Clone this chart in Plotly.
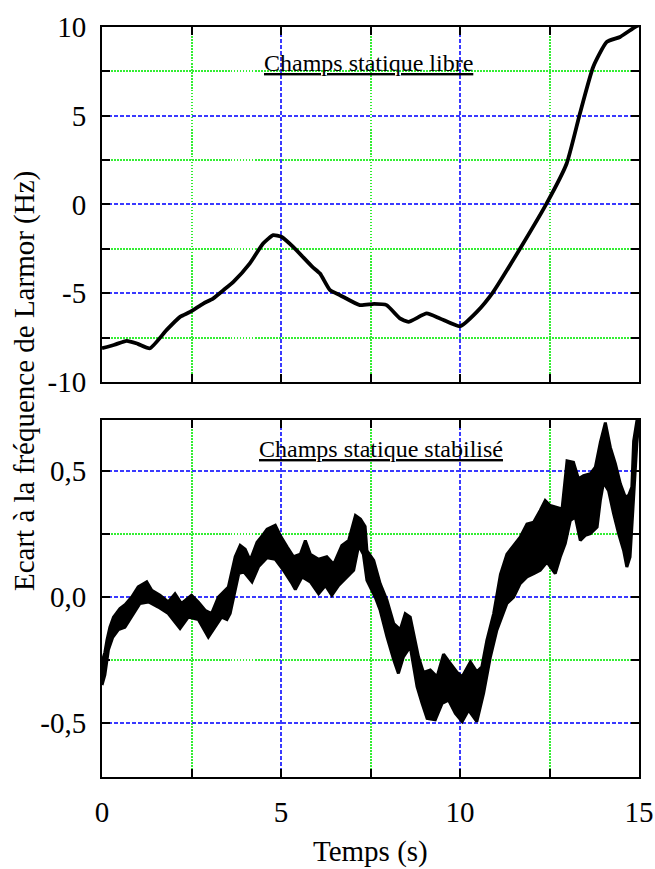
import plotly.graph_objects as go

# ---- Top panel: free static field (smooth curve) ----
top_t = [0.0, 0.35, 0.69, 1.0, 1.34, 1.8, 2.18, 2.46, 2.83, 3.1, 3.39, 3.67, 4.13, 4.5, 4.78,
         5.01, 5.34, 5.87, 6.09, 6.37, 6.65, 7.2, 7.6, 7.95, 8.32, 8.56, 9.07, 9.44, 10.0,
         10.47, 10.93, 11.68, 12.42, 12.98, 13.35, 13.72, 14.1, 14.47, 14.89, 15.0]
top_hz = [-8.1, -7.9, -7.68, -7.85, -8.1, -7.08, -6.33, -6.05, -5.58, -5.3, -4.83, -4.36, -3.32, -2.2, -1.73,
          -1.82, -2.39, -3.5, -3.89, -4.83, -5.11, -5.67, -5.6, -5.67, -6.42, -6.61, -6.14, -6.42, -6.86,
          -6.05, -4.92, -2.48, 0.06, 2.31, 5.13, 7.75, 9.16, 9.44, 10.0, 10.1]

# ---- Bottom panel: stabilised static field (noisy band: upper / lower envelopes) ----
bot_t_upper = [0.0, 0.08, 0.14, 0.22, 0.32, 0.5, 0.65, 0.83, 1.01, 1.25, 1.39, 1.62, 1.85, 2.04, 2.22,
               2.5, 2.69, 2.88, 3.06, 3.25, 3.53, 3.72, 3.86, 4.0, 4.14, 4.33, 4.51, 4.61, 4.84, 4.98,
               5.17, 5.35, 5.54, 5.68, 5.82, 6.05, 6.28, 6.47, 6.7, 6.89, 7.08, 7.22, 7.35, 7.4, 7.59,
               7.77, 7.96, 8.15, 8.33, 8.47, 8.61, 8.7, 8.84, 8.98, 9.17, 9.36, 9.54, 9.73, 9.92, 10.06,
               10.29, 10.47, 10.61, 10.75, 10.94, 11.13, 11.31, 11.5, 11.68, 11.87, 12.06, 12.24, 12.38,
               12.52, 12.71, 12.85, 12.99, 13.17, 13.31, 13.45, 13.64, 13.78, 13.92, 14.06, 14.2, 14.34,
               14.48, 14.62, 14.71, 14.8, 14.85, 14.94, 15.0]
bot_upper = [-0.26, -0.22, -0.17, -0.12, -0.08, -0.046, -0.03, 0.0, 0.04, 0.06, 0.027, 0.007, -0.02, 0.013, -0.026,
             0.007, -0.02, -0.053, -0.066, 0.0, 0.04, 0.16, 0.205, 0.19, 0.146, 0.218, 0.25, 0.27, 0.285, 0.245,
             0.2, 0.16, 0.17, 0.225, 0.17, 0.15, 0.16, 0.13, 0.205, 0.225, 0.324, 0.31, 0.28, 0.185, 0.146,
             0.053, -0.013, -0.106, -0.13, -0.066, -0.08, -0.145, -0.238, -0.30, -0.29, -0.317, -0.227, -0.264, -0.30, -0.317,
             -0.258, -0.298, -0.278, -0.172, -0.066, 0.09, 0.17, 0.205, 0.238, 0.29, 0.298, 0.344, 0.384,
             0.364, 0.357, 0.35, 0.542, 0.536, 0.47, 0.483, 0.49, 0.516, 0.615, 0.694, 0.595, 0.53,
             0.45, 0.397, 0.404, 0.437, 0.62, 0.70, 0.71]

bot_t_lower = [0.0, 0.08, 0.18, 0.3, 0.46, 0.64, 0.83, 1.06, 1.3, 1.57, 1.85, 2.18, 2.41, 2.69, 2.97,
               3.11, 3.34, 3.49, 3.58, 3.82, 3.96, 4.19, 4.37, 4.61, 4.84, 5.07, 5.31, 5.4, 5.59, 5.82,
               6.05, 6.24, 6.42, 6.61, 6.84, 7.03, 7.17, 7.3, 7.4, 7.63, 7.77, 7.96, 8.15, 8.28, 8.42,
               8.61, 8.8, 8.94, 9.08, 9.31, 9.5, 9.68, 9.87, 10.06, 10.24, 10.47, 10.66, 10.85, 11.03, 11.22,
               11.31, 11.5, 11.68, 11.87, 12.06, 12.24, 12.43, 12.66, 12.8, 12.94, 13.08, 13.22, 13.36, 13.5,
               13.64, 13.83, 13.92, 14.01, 14.15, 14.29, 14.43, 14.57, 14.66, 14.75, 14.85, 14.94, 15.0]
bot_lower = [-0.35, -0.31, -0.21, -0.16, -0.13, -0.12, -0.08, -0.026, -0.02, -0.04, -0.066, -0.125, -0.08, -0.09, -0.16,
             -0.13, -0.08, -0.09, -0.066, 0.093, 0.1, 0.06, 0.12, 0.156, 0.15, 0.106, 0.053, 0.03, 0.08, 0.06,
             0.013, 0.046, 0.007, 0.046, 0.08, 0.106, 0.205, 0.17, 0.066, 0.0, -0.053, -0.159, -0.251, -0.304, -0.238,
             -0.198, -0.357, -0.423, -0.483, -0.489, -0.423, -0.41, -0.463, -0.496, -0.45, -0.496, -0.383, -0.238, -0.132, -0.06,
             -0.026, 0.0, 0.053, 0.08, 0.093, 0.106, 0.139, 0.093, 0.159, 0.212, 0.304, 0.318, 0.225, 0.245,
             0.252, 0.278, 0.384, 0.456, 0.423, 0.331, 0.252, 0.185, 0.119, 0.159, 0.397, 0.61, 0.70]

top_yticks = [-10, -5, 0, 5, 10]
top_yticklabels = ["-10", "-5", "0", "5", "10"]
bot_yticks = [-0.5, 0.0, 0.5]
bot_yticklabels = ["-0,5", "0,0", "0,5"]
x_ticks = [0, 5, 10, 15]
x_ticklabels = ["0", "5", "10", "15"]

title_top = "Champs statique libre"
title_bot = "Champs statique stabilisé"
x_title = "Temps (s)"
y_title = "Ecart à la fréquence de Larmor (Hz)"

FONT = "Liberation Serif"
BLUE = "#3a3aff"
GREEN = "#33ee33"
MAJ_DASH = "4px,2px"
MIN_DASH = "1.5px,1.5px"
GRID_W = 1.5

fig = go.Figure()

fig.add_trace(go.Scatter(x=top_t, y=top_hz, mode="lines",
                         line=dict(color="black", width=3.8, shape="spline", smoothing=0.5),
                         xaxis="x", yaxis="y", showlegend=False))

band_x = bot_t_upper + bot_t_lower[::-1]
band_y = bot_upper + bot_lower[::-1]
fig.add_trace(go.Scatter(x=band_x, y=band_y, mode="lines", fill="toself", fillcolor="black",
                         line=dict(color="black", width=3),
                         xaxis="x2", yaxis="y2", showlegend=False))


def tick_style():
    return dict(ticks="inside", ticklen=8, tickwidth=2, tickcolor="black",
                showline=True, linecolor="black", linewidth=2, mirror="ticks",
                showgrid=True, gridcolor=BLUE, griddash=MAJ_DASH, gridwidth=GRID_W,
                zeroline=False, automargin=False)


def minor_style(vals):
    return dict(tickvals=vals, ticks="inside", ticklen=8, tickwidth=2, tickcolor="black",
                showgrid=True, gridcolor=GREEN, griddash=MIN_DASH, gridwidth=GRID_W)


tickfont = dict(family=FONT, size=29, color="black")

fig.update_layout(
    width=655, height=869,
    margin=dict(l=102, r=16, t=27, b=92),
    paper_bgcolor="white", plot_bgcolor="white",
    xaxis=dict(domain=[0, 1], anchor="y", range=[0, 15], tickvals=x_ticks, ticktext=x_ticklabels,
               showticklabels=False, minor=minor_style([2.5, 7.5, 12.5]), **tick_style()),
    yaxis=dict(domain=[0.5267, 1], anchor="x", range=[-10, 10],
               tickvals=top_yticks, ticktext=top_yticklabels,
               minor=minor_style([-7.5, -2.5, 2.5, 7.5]), tickfont=tickfont, ticklabelstandoff=8,
               **tick_style()),
    xaxis2=dict(domain=[0, 1], anchor="y2", range=[0, 15], tickvals=x_ticks, ticktext=x_ticklabels,
                minor=minor_style([2.5, 7.5, 12.5]), tickfont=tickfont, ticklabelstandoff=8,
                **tick_style()),
    yaxis2=dict(domain=[0, 0.476], anchor="x2", range=[-0.716, 0.704],
                tickvals=bot_yticks, ticktext=bot_yticklabels,
                minor=minor_style([-0.25, 0.25]), tickfont=tickfont, ticklabelstandoff=8,
                **tick_style()),
    annotations=[
        dict(text="<u>" + title_top + "</u>", x=7.45, y=8.0, xref="x", yref="y", showarrow=False,
             xanchor="center", yanchor="middle", font=dict(family=FONT, size=24, color="black")),
        dict(text="<u>" + title_bot + "</u>", x=7.79, y=0.59, xref="x2", yref="y2", showarrow=False,
             xanchor="center", yanchor="middle", font=dict(family=FONT, size=24, color="black")),
        dict(text=x_title, x=0.5, y=0, xref="paper", yref="paper", yshift=-74, showarrow=False,
             xanchor="center", yanchor="middle", font=dict(family=FONT, size=29, color="black")),
        dict(text=y_title, x=0, y=0.528, xref="paper", yref="paper", xshift=-78, showarrow=False,
             textangle=-90, xanchor="center", yanchor="middle", font=dict(family=FONT, size=29, color="black")),
    ],
)

# remove the default page margin so the 655x869 figure fills the window exactly
page_fix = ("document.documentElement.style.margin='0';document.documentElement.style.padding='0';"
            "document.documentElement.style.overflow='hidden';"
            "document.body.style.margin='0';document.body.style.padding='0';"
            "document.body.style.overflow='hidden';")

fig.write_html("out.html", post_script=page_fix, config={"displayModeBar": False})
